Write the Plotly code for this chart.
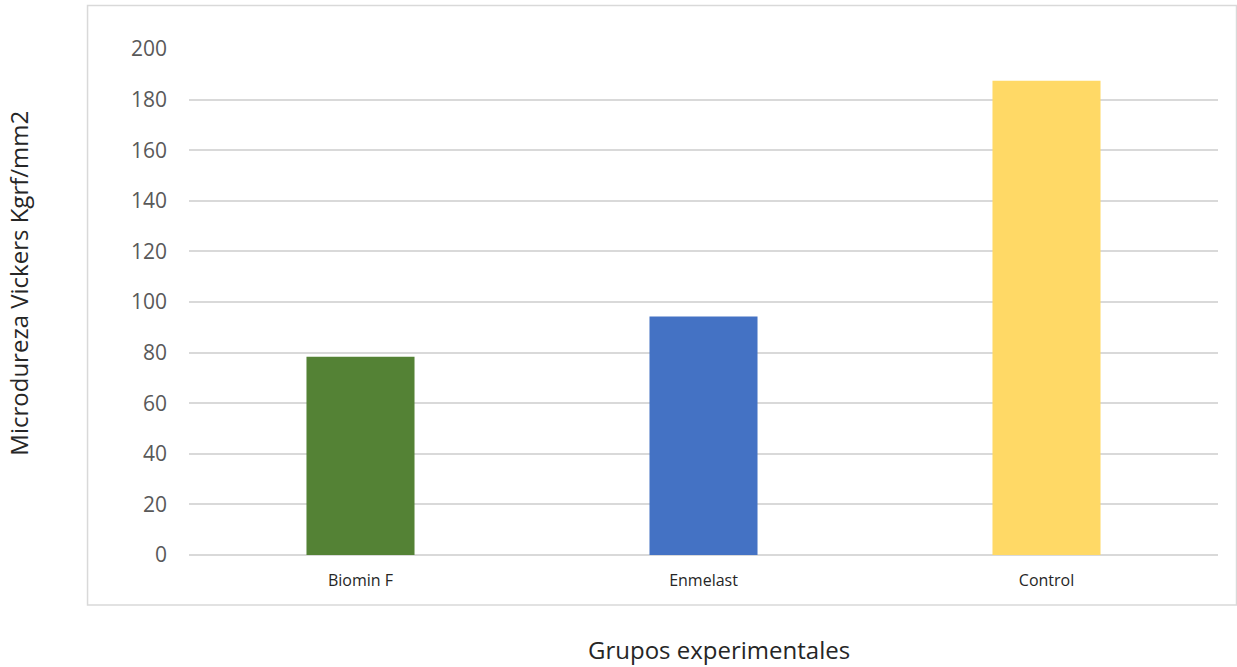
import plotly.graph_objects as go

categories = ["Biomin F", "Enmelast", "Control"]
values = [78.4, 94.3, 187.5]
colors = ["#548235", "#4472C4", "#FFD966"]
y_ticks = [0, 20, 40, 60, 80, 100, 120, 140, 160, 180, 200]

fig = go.Figure()
fig.add_trace(go.Bar(x=categories, y=values, marker=dict(color=colors, line=dict(width=0)),
                     hoverinfo="x+y"))

fig.update_layout(
    width=1237, height=667,
    margin=dict(l=189, r=19, t=49, b=112),
    paper_bgcolor="white", plot_bgcolor="white",
    bargap=0.685,
    showlegend=False,
    font=dict(family="Open Sans", color="#595959"),
)
fig.update_xaxes(
    showgrid=False, showline=False, zeroline=False, ticks="",
    tickfont=dict(size=16, color="#262626", family="Open Sans"),
    ticklabelstandoff=14,
)
fig.update_yaxes(
    range=[0, 200], tickvals=y_ticks, showgrid=True, gridcolor="#d9d9d9", gridwidth=1.5,
    zeroline=True, zerolinecolor="#d9d9d9", zerolinewidth=1.5, showline=False, ticks="",
    tickfont=dict(size=21, color="#595959", family="Open Sans"),
    ticklabelstandoff=21,
)

fig.add_shape(type="rect", xref="paper", yref="paper",
              x0=-0.0986, x1=1.018, y0=-0.0988, y1=1.086,
              line=dict(color="#d9d9d9", width=1.5), fillcolor="rgba(0,0,0,0)", layer="below")

fig.add_annotation(text="Grupos experimentales", xref="paper", yref="paper",
                   x=0.515, y=-0.186, xanchor="center", yanchor="middle", showarrow=False,
                   font=dict(size=24, color="#262626", family="Open Sans"))
fig.add_annotation(text="Microdureza Vickers Kgrf/mm2", xref="paper", yref="paper",
                   x=-0.166, y=0.5366, xanchor="center", yanchor="middle", showarrow=False,
                   textangle=-90,
                   font=dict(size=24, color="#262626", family="Open Sans"))

fig.write_html("out.html")
